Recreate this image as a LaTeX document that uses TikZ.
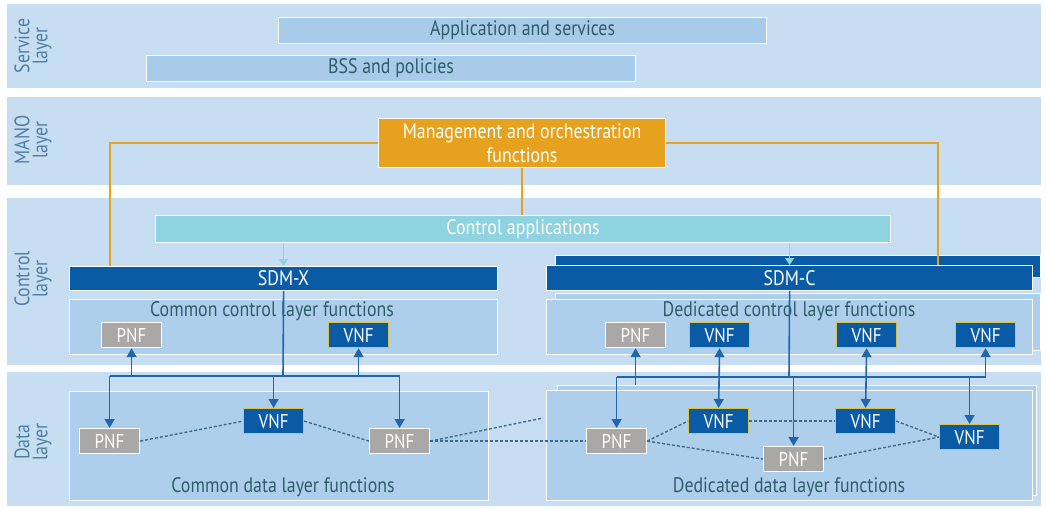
\documentclass[tikz,border=0pt]{standalone}
\usepackage{fontspec}
\setmainfont{PT Sans}[FakeStretch=0.85]
\usetikzlibrary{arrows.meta}
\definecolor{bandc}{HTML}{C7DEF2}
\definecolor{boxc}{HTML}{AECFEC}
\definecolor{svcc}{HTML}{A8CBEA}
\definecolor{appc}{HTML}{8FD3E0}
\definecolor{orc}{HTML}{E6A11E}
\definecolor{dblue}{HTML}{0A5BA6}
\definecolor{grayc}{HTML}{A9A8A6}
\definecolor{yelc}{HTML}{D9C24A}
\definecolor{arrc}{HTML}{2166AA}
\definecolor{dashc}{HTML}{406A8C}
\definecolor{txtc}{HTML}{2F5C6A}
\definecolor{laybc}{HTML}{4E7FA0}
\tikzset{
  band/.style={fill=bandc, draw=none, anchor=north west, inner sep=0pt},
  lbox/.style={fill=boxc, draw=white, line width=1.2pt, anchor=north west, inner sep=0pt},
  svc/.style={fill=svcc, draw=white, line width=1.2pt, anchor=north west, inner sep=0pt, text=txtc, font=\fontsize{21}{23}\selectfont},
  dbar/.style={fill=dblue, draw=white, line width=1.2pt, anchor=north west, inner sep=0pt, text=white, font=\fontsize{21}{23}\selectfont},
  pnfbox/.style={fill=grayc, draw=white, line width=1.2pt, anchor=north west, inner sep=0pt, minimum width=60pt, minimum height=25pt, text=white, font=\fontsize{20}{22}\selectfont},
  vnfbox/.style={fill=dblue, draw=yelc, line width=1.2pt, anchor=north west, inner sep=0pt, minimum width=60pt, minimum height=25pt, text=white, font=\fontsize{20}{22}\selectfont},
  lbl/.style={text=txtc, inner sep=0pt, font=\fontsize{21}{23}\selectfont},
  laylbl/.style={text=laybc, rotate=90, align=center, inner sep=0pt, font=\fontsize{21}{18}\selectfont},
  orline/.style={draw=orc, line width=1.3pt},
  tealarr/.style={draw=appc, line width=1.6pt, -{Triangle[width=9pt,length=7pt]}},
  bline/.style={draw=arrc, line width=1.6pt},
  barr/.style={draw=arrc, line width=1.6pt, -{Triangle[width=10pt,length=9pt]}},
  bdarr/.style={draw=arrc, line width=1.6pt, {Triangle[width=10pt,length=9pt]}-{Triangle[width=10pt,length=9pt]}},
  dline/.style={draw=dashc, line width=1.4pt, dash pattern=on 3pt off 2pt}
}
\begin{document}
\begin{tikzpicture}[x=1pt,y=-1pt]
\useasboundingbox (0,0) rectangle (1046,508);
\fill[white] (0,0) rectangle (1046,508);
% layer bands
\node[band, minimum width=1034pt, minimum height=84pt] (bserv) at (7,4) {};
\node[band, minimum width=1034pt, minimum height=88pt] (bmano) at (7,97) {};
\node[band, minimum width=1034pt, minimum height=167pt] (bctrl) at (7,198) {};
\node[band, minimum width=1034pt, minimum height=134pt] (bdata) at (7,372) {};
% layer labels
\node[laylbl] (lserv) at (33,46) {Service\\layer};
\node[laylbl] (lmano) at (33,140) {MANO\\layer};
\node[laylbl] (lctrl) at (33,279) {Control\\layer};
\node[laylbl] (ldata) at (33,442) {Data\\layer};
% service layer
\node[svc, minimum width=488pt, minimum height=26pt] (app) at (278,17) {Application and services};
\node[svc, minimum width=489pt, minimum height=26pt] (bss) at (146,55) {BSS and policies};
% MANO
\node[fill=orc, draw=white, line width=1.2pt, anchor=north west, inner sep=0pt, minimum width=287pt, minimum height=49pt, text=white, align=center, font=\fontsize{21}{24}\selectfont] (mano) at (378,118) {Management and orchestration\\functions};
% control applications
\node[fill=appc, draw=white, line width=1.2pt, anchor=north west, inner sep=0pt, minimum width=735pt, minimum height=27pt, text=white, font=\fontsize{21}{23}\selectfont] (capp) at (155,215) {Control applications};
% dedicated back layers
\node[dbar, minimum width=485pt, minimum height=22pt] (sdmcb) at (555,255) {};
\node[lbox, minimum width=485pt, minimum height=57pt] (dcback) at (555,293) {};
\node[lbox, minimum width=479pt, minimum height=110pt] (ddback) at (557,385) {};
% SDM bars
\node[dbar, minimum width=428pt, minimum height=24pt] (sdmx) at (69,266) {SDM-X};
\node[dbar, minimum width=486pt, minimum height=25pt] (sdmc) at (546,265) {SDM-C};
% function boxes
\node[lbox, minimum width=428pt, minimum height=55pt] (ccf) at (69,299) {};
\node[lbox, minimum width=486pt, minimum height=55pt] (dcf) at (546,299) {};
\node[lbox, minimum width=419pt, minimum height=109pt] (cdf) at (69,391) {};
\node[lbox, minimum width=486pt, minimum height=110pt] (ddf) at (546,390) {};
\node[lbl] (ccflbl) at (272,311) {Common control layer functions};
\node[lbl] (dcflbl) at (789,311) {Dedicated control layer functions};
\node[lbl] (cdflbl) at (283,487) {Common data layer functions};
\node[lbl] (ddflbl) at (789,487) {Dedicated data layer functions};
% control layer NFs
\node[pnfbox] (cpnf1) at (101,322) {PNF};
\node[vnfbox] (cvnf1) at (328,322) {VNF};
\node[pnfbox] (cpnf2) at (605,322) {PNF};
\node[vnfbox] (cvnf2) at (689,322) {VNF};
\node[vnfbox] (cvnf3) at (836,322) {VNF};
\node[vnfbox] (cvnf4) at (955,322) {VNF};
% data layer NFs
\node[pnfbox] (dpnf1) at (79,428) {PNF};
\node[vnfbox] (dvnf1) at (243,408) {VNF};
\node[pnfbox] (dpnf2) at (369,428) {PNF};
\node[pnfbox] (dpnf3) at (586,428) {PNF};
\node[vnfbox] (dvnf3) at (688,408) {VNF};
\node[pnfbox] (dpnf4) at (763,446) {PNF};
\node[vnfbox] (dvnf4) at (835,408) {VNF};
\node[vnfbox] (dvnf5) at (939,424) {VNF};
% orange connectors
\coordinate (oL) at (110,266);
\coordinate (oR) at (938,265);
\draw[orline] (mano.west) -| (oL);
\draw[orline] (mano.east) -| (oR);
\draw[orline] (mano.south) -- (mano.south |- capp.north);
% teal arrows
\draw[tealarr] (capp.south -| sdmx.north) -- (sdmx.north);
\draw[tealarr] (capp.south -| sdmc.north) -- (sdmc.north);
% common bus
\coordinate (busx) at (283,376);
\draw[bline] (sdmx.south) -- (busx);
\draw[bline] (dpnf1.north |- busx) -- (dpnf2.north |- busx);
\draw[barr] (dpnf1.north |- busx) -- (dpnf1.north);
\draw[barr] (dpnf2.north |- busx) -- (dpnf2.north);
\draw[barr] (dvnf1.north |- busx) -- (dvnf1.north);
\draw[barr] (cpnf1.south |- busx) -- (cpnf1.south);
\draw[barr] (cvnf1.south |- busx) -- (cvnf1.south);
% dedicated bus
\coordinate (busc) at (789,377);
\draw[bline] (sdmc.south) -- (busc);
\draw[bline] (dpnf3.north |- busc) -- (cvnf4.south |- busc);
\draw[barr] (dpnf3.north |- busc) -- (dpnf3.north);
\draw[barr] (dpnf4.north |- busc) -- (dpnf4.north);
\draw[barr] (dvnf5.north |- busc) -- (dvnf5.north);
\draw[barr] (cvnf4.south |- busc) -- (cvnf4.south);
\draw[barr] (cpnf2.south |- ddback.north) -- (cpnf2.south);
\draw[bdarr] (cvnf2.south) -- (dvnf3.north);
\draw[bdarr] (cvnf3.south) -- (dvnf4.north);
% dashed data links
\coordinate (dend) at (543,418);
\draw[dline] (dpnf1.east) -- (dvnf1.west);
\draw[dline] (dvnf1.east) -- (dpnf2.west);
\draw[dline] (dpnf2.east) -- (dend);
\draw[dline] (dpnf2.east) -- (dpnf3.west);
\draw[dline] (dpnf3.east) -- (dvnf3.west);
\draw[dline] (dpnf3.east) -- (dpnf4.west);
\draw[dline] (dvnf3.east) -- (dvnf4.west);
\draw[dline] (dvnf4.east) -- (dvnf5.west);
\draw[dline] (dpnf4.east) -- (dvnf5.west);
\end{tikzpicture}
\end{document}
